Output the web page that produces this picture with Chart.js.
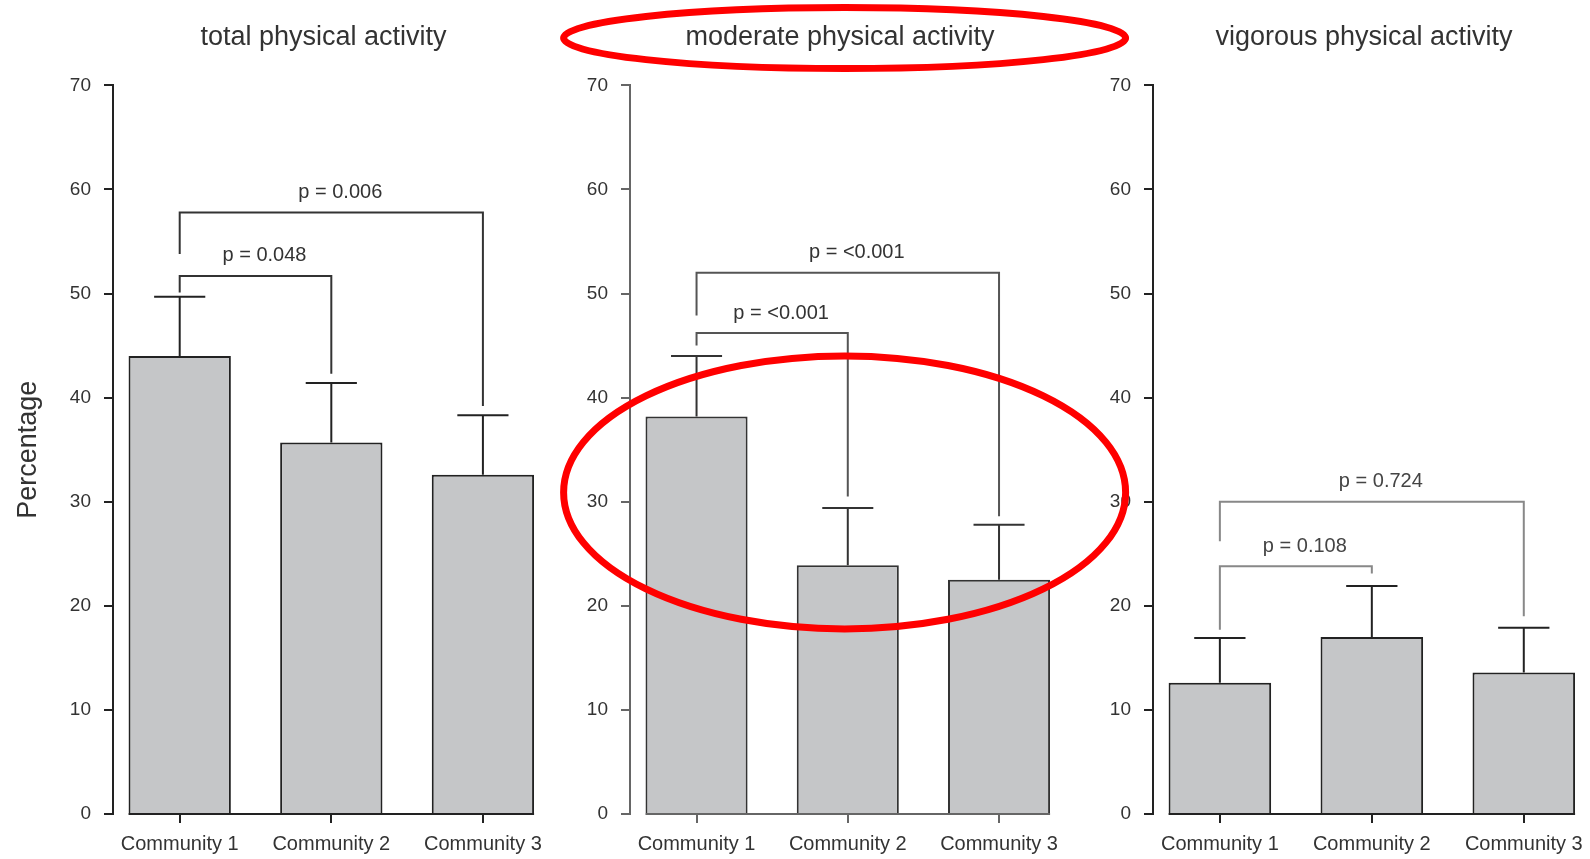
<!DOCTYPE html>
<html><head><meta charset="utf-8">
<script src="https://cdn.jsdelivr.net/npm/chart.js@4.4.1/dist/chart.umd.min.js"></script>
<style>
html,body{margin:0;padding:0;background:#fff;width:1590px;height:859px;overflow:hidden}
canvas{position:absolute;top:0}
</style></head><body>
<canvas id="c1" width="560" height="859" style="left:0;z-index:1"></canvas>
<canvas id="c2" width="600" height="859" style="left:545px;z-index:3"></canvas>
<canvas id="c3" width="530" height="859" style="left:1060px;z-index:2"></canvas>
<script>
// ---- data ----
const categories = ['Community 1', 'Community 2', 'Community 3'];
const panelTitles = ['total physical activity', 'moderate physical activity', 'vigorous physical activity'];
const yAxisTitle = 'Percentage';
const yMin = 0, yMax = 70, yStep = 10;

const totalMean = [44.0, 35.7, 32.6];
const totalUpper = [49.7, 41.4, 38.3];
const moderateMean = [38.2, 23.9, 22.5];
const moderateUpper = [44.0, 29.4, 27.8];
const vigorousMean = [12.6, 17.0, 13.6];
const vigorousUpper = [16.9, 21.9, 17.9];

// significance brackets: [from community, to community, bracket level, left leg end, right leg end]
const totalBrackets = [[1, 2, 51.7, 50.1, 42.3], [1, 3, 57.8, 53.8, 39.2]];
const totalP = ['p = 0.048', 'p = 0.006'];
const moderateBrackets = [[1, 2, 46.2, 45.0, 30.5], [1, 3, 52.0, 47.9, 28.6]];
const moderateP = ['p = <0.001', 'p = <0.001'];
const vigorousBrackets = [[1, 2, 23.8, 17.7, 23.1], [1, 3, 30.0, 26.2, 19.0]];
const vigorousP = ['p = 0.108', 'p = 0.724'];

// ---- rendering ----
const FONT = '"Liberation Sans", Arial, Helvetica, sans-serif';
Chart.defaults.font.family = FONT;

const sigPlugin = {
  id: 'sig',
  afterDraw(chart, args, o) {
    const ctx = chart.ctx;
    const xs = chart.scales.x, ys = chart.scales.y;
    const bars = chart.getDatasetMeta(0).data;
    ctx.save();
    ctx.lineCap = 'butt';
    // baseline (x axis line spanning the bars)
    const y0 = ys.getPixelForValue(0);
    const first = bars[0], last = bars[bars.length - 1];
    ctx.strokeStyle = o.axisColor; ctx.lineWidth = 2;
    ctx.beginPath();
    ctx.moveTo(first.x - first.width / 2, y0);
    ctx.lineTo(last.x + last.width / 2, y0);
    ctx.stroke();
    // upper error bars
    ctx.strokeStyle = o.errColor; ctx.lineWidth = 2;
    bars.forEach((b, i) => {
      const yt = ys.getPixelForValue(o.upper[i]);
      const hw = b.width * 0.25;
      ctx.beginPath();
      ctx.moveTo(b.x, b.y); ctx.lineTo(b.x, yt);
      ctx.moveTo(b.x - hw, yt); ctx.lineTo(b.x + hw, yt);
      ctx.stroke();
    });
    // brackets + p labels
    o.brackets.forEach((br, k) => {
      const [a, b, lvl, ea, eb] = br;
      const xa = xs.getPixelForValue(a), xb = xs.getPixelForValue(b);
      const yl = ys.getPixelForValue(lvl);
      ctx.strokeStyle = o.bracketColor; ctx.lineWidth = 2;
      ctx.beginPath();
      ctx.moveTo(xa, ys.getPixelForValue(ea));
      ctx.lineTo(xa, yl); ctx.lineTo(xb, yl);
      ctx.lineTo(xb, ys.getPixelForValue(eb));
      ctx.stroke();
      ctx.fillStyle = o.labelColor;
      ctx.font = '20px ' + FONT;
      ctx.textAlign = 'center'; ctx.textBaseline = 'middle';
      ctx.fillText(o.pLabels[k], (xa + xb) / 2 + 9, yl - 20);
    });
    // red highlight ellipses
    (o.ellipses || []).forEach(e => {
      ctx.strokeStyle = '#ff0000'; ctx.lineWidth = 7;
      ctx.beginPath();
      ctx.ellipse(xs.getPixelForValue(e.x), ys.getPixelForValue(e.y), e.rx, e.ry, 0, 0, Math.PI * 2);
      ctx.stroke();
    });
    ctx.restore();
  }
};

function makePanel(id, title, means, upper, brackets, pLabels, st) {
  return new Chart(document.getElementById(id), {
    type: 'bar',
    data: {
      datasets: [{
        data: means.map((v, i) => ({ x: i + 1, y: v })),
        backgroundColor: '#c5c6c8',
        borderColor: st.barBorder,
        borderWidth: 2,
        barPercentage: 0.675,
        categoryPercentage: 1
      }]
    },
    options: {
      responsive: false, animation: false, devicePixelRatio: 1,
      layout: { padding: { left: 0, right: st.padRight, top: 0, bottom: 0 } },
      plugins: {
        legend: { display: false },
        tooltip: { enabled: false },
        title: {
          display: true, text: title, fullSize: false, color: '#333',
          font: { size: 27, weight: 'normal' }, padding: { top: 21, bottom: 32 }
        },
        sig: {
          upper, brackets, pLabels,
          axisColor: st.axis, errColor: st.err, bracketColor: st.bracket,
          labelColor: st.label, ellipses: st.ellipses
        }
      },
      scales: {
        x: {
          type: 'linear', min: 0.56, max: 3.337, offset: false,
          afterBuildTicks: s => { s.ticks = categories.map((c, i) => ({ value: i + 1 })); },
          ticks: {
            callback: (v, i) => categories[i], autoSkip: false, maxRotation: 0, minRotation: 0,
            color: '#333', font: { size: 20 }, padding: 9
          },
          grid: { offset: false, drawOnChartArea: false, drawTicks: true, tickLength: 9, color: st.axis, lineWidth: 2 },
          border: { display: false },
          afterFit: s => { s.height = 45; s.paddingLeft = 0; s.paddingRight = 0; }
        },
        y: {
          min: yMin, max: yMax,
          ticks: { stepSize: yStep, color: '#333', font: { size: 19 }, padding: 13 },
          grid: { drawOnChartArea: false, tickLength: 9, color: st.axis, lineWidth: 2 },
          border: { display: true, color: st.axis, width: 2 },
          title: st.yTitle
            ? { display: true, text: yAxisTitle, color: '#333', font: { size: 27 }, padding: { top: 12, bottom: 0 } }
            : { display: false },
          afterFit: s => { s.width = st.yWidth; }
        }
      }
    },
    plugins: [sigPlugin]
  });
}

makePanel('c1', panelTitles[0], totalMean, totalUpper, totalBrackets, totalP, {
  yWidth: 113, padRight: 26, yTitle: true, axis: '#222', err: '#222', bracket: '#333', label: '#333', barBorder: '#222'
});
makePanel('c2', panelTitles[1], moderateMean, moderateUpper, moderateBrackets, moderateP, {
  yWidth: 85, padRight: 95, yTitle: false, axis: '#666', err: '#333', bracket: '#555', label: '#333', barBorder: '#333',
  ellipses: [{ x: 1.979, y: 74.55, rx: 281, ry: 30.5 }, { x: 1.979, y: 30.9, rx: 281, ry: 136.5 }]
});
makePanel('c3', panelTitles[2], vigorousMean, vigorousUpper, vigorousBrackets, vigorousP, {
  yWidth: 93, padRight: 15, yTitle: false, axis: '#222', err: '#222', bracket: '#888', label: '#444', barBorder: '#222'
});
</script>
</body></html>
